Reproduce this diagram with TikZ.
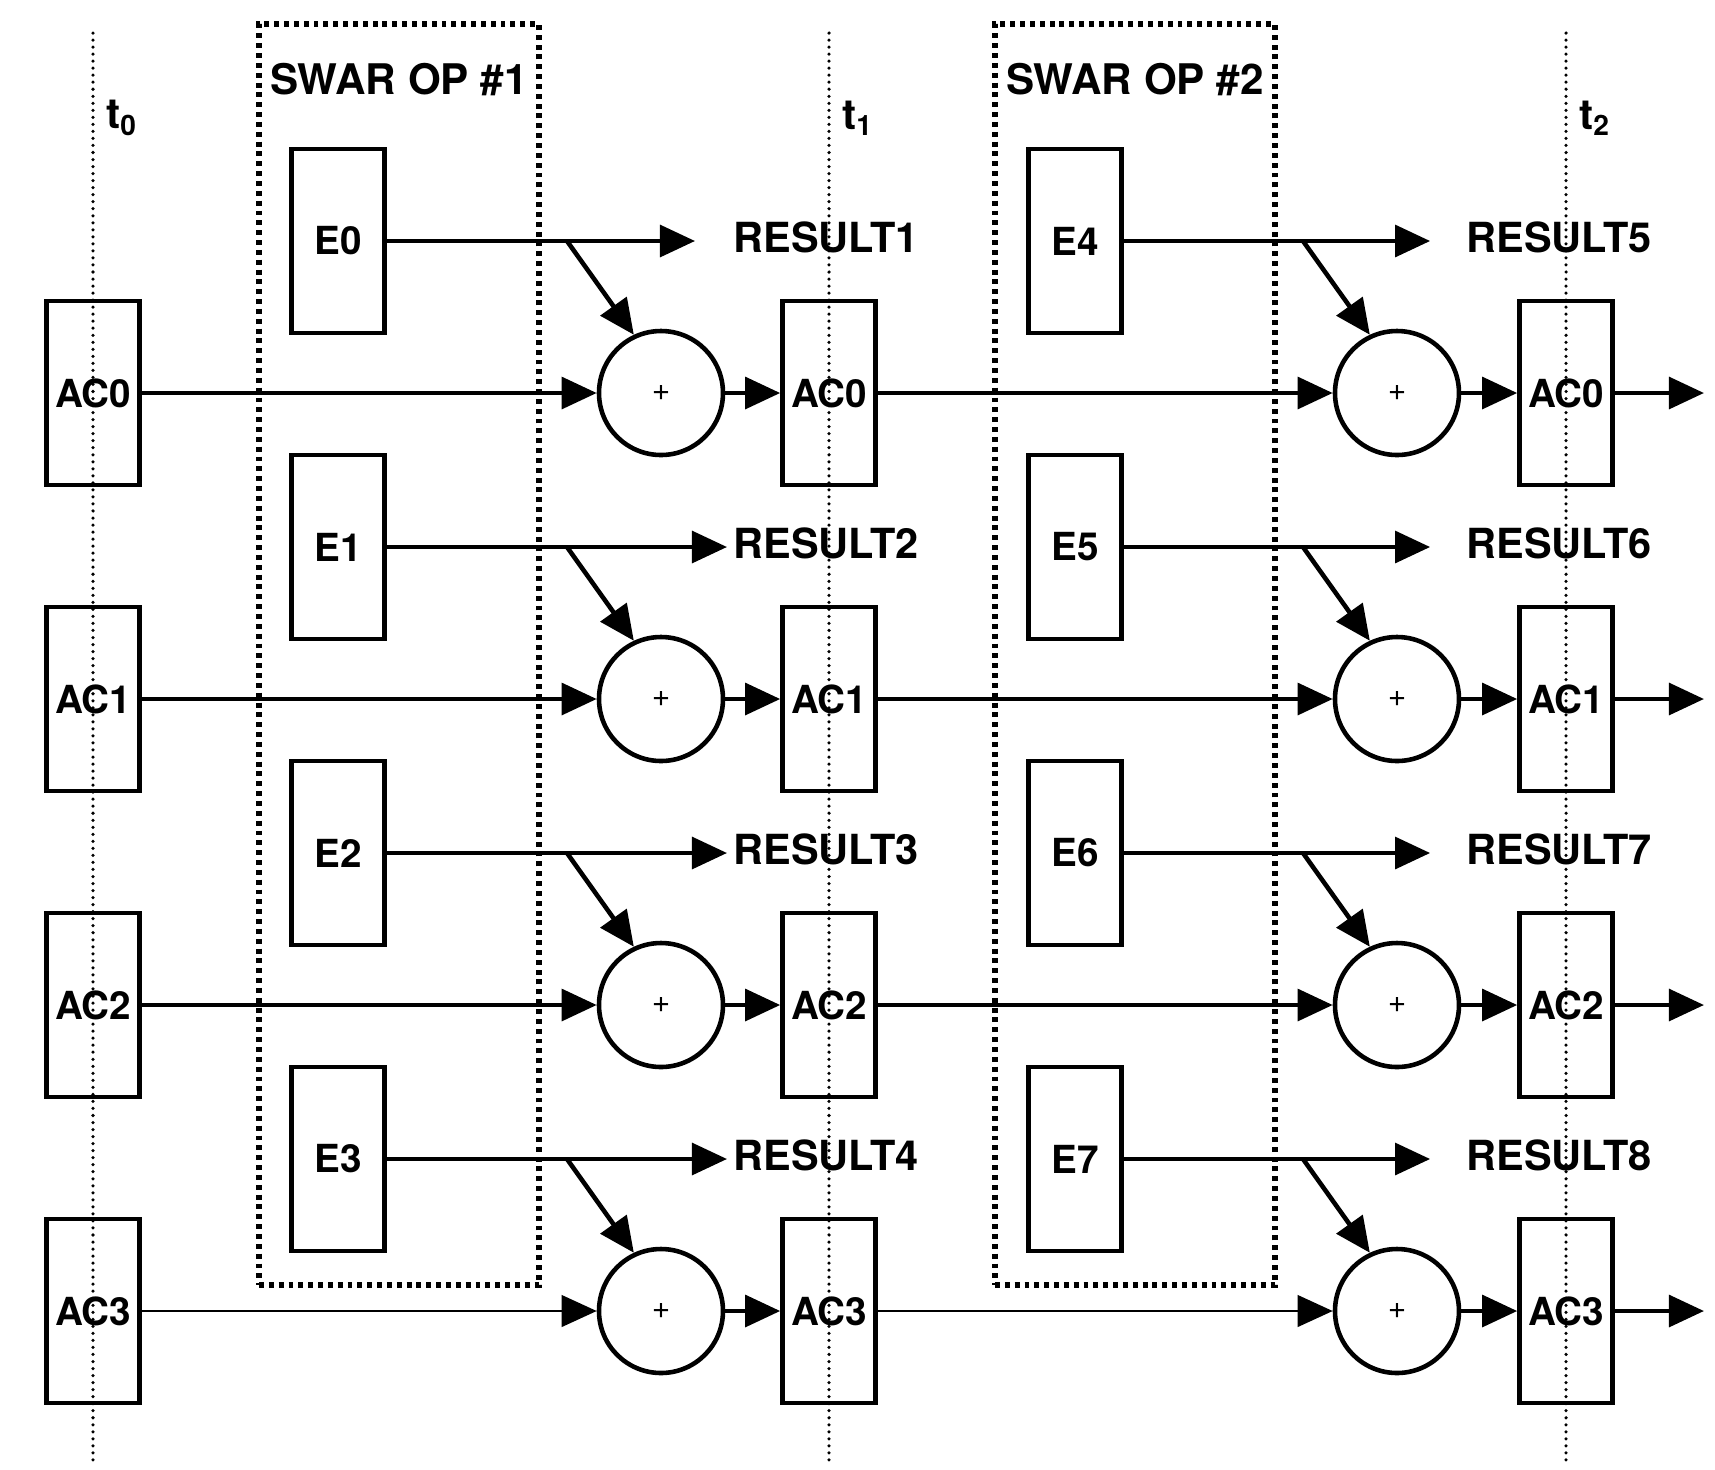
\documentclass[tikz,border=0pt]{standalone}
\usepackage{fontspec}
\setmainfont{TeX Gyre Heros}
\usetikzlibrary{arrows.meta}

\begin{document}
\begin{tikzpicture}[x=0.1mm, y=-0.1mm,
  reg/.style={draw, line width=1.3pt, minimum width=0.93cm, minimum height=1.84cm, inner sep=0pt, font=\fontsize{11}{13}\selectfont\bfseries},
  sum/.style={draw, circle, line width=1.3pt, minimum size=1.24cm, inner sep=0pt, font=\small},
  res/.style={anchor=west, inner sep=0pt, font=\fontsize{11.8}{14}\selectfont\bfseries},
  opbox/.style={draw, line width=1.5pt, dash pattern=on 1.4pt off 1.4pt, minimum width=2.8cm, minimum height=12.61cm, inner sep=0pt},
  tline/.style={line width=1pt, line cap=round, dash pattern=on 0pt off 2pt},
  arr/.style={-{Triangle[length=10pt,width=9pt]}, line width=1.3pt}]

\useasboundingbox (0,0) rectangle (1715,1470);

% time lines
\draw[tline] (93,33) -- (93,1466);
\draw[tline] (829,33) -- (829,1466);
\draw[tline] (1566,33) -- (1566,1466);
\node[font=\fontsize{12}{14}\selectfont\bfseries] (t0) at (122,118) {t\textsubscript{0}};
\node[font=\fontsize{12}{14}\selectfont\bfseries] (t1) at (858,118) {t\textsubscript{1}};
\node[font=\fontsize{12}{14}\selectfont\bfseries] (t2) at (1595,118) {t\textsubscript{2}};

% SWAR operations
\node[opbox] (op1) at (399,654.5) {};
\node[opbox] (op2) at (1135,654.5) {};
\node[font=\fontsize{12}{14}\selectfont\bfseries] (op1lbl) at (399,80) {SWAR OP \#1};
\node[font=\fontsize{12}{14}\selectfont\bfseries] (op2lbl) at (1135,80) {SWAR OP \#2};

\foreach \r/\y/\gap/\lw in {0/393/10.8pt/1.3pt, 1/699/1.7pt/1.3pt, 2/1005/1.7pt/1.3pt, 3/1311/1.7pt/0.7pt} {
  \pgfmathtruncatemacro{\eb}{\r+4}
  \pgfmathtruncatemacro{\ra}{\r+1}
  \pgfmathtruncatemacro{\rb}{\r+5}
  \node[reg] (acA\r) at (93,\y) {AC\r};
  \node[reg] (acB\r) at (829,\y) {AC\r};
  \node[reg] (acC\r) at (1566,\y) {AC\r};
  \node[reg] (eA\r) at (338,\y-152) {E\r};
  \node[reg] (eB\r) at (1075,\y-152) {E\eb};
  \node[sum] (sumA\r) at (661,\y) {+};
  \node[sum] (sumB\r) at (1397,\y) {+};
  \node[res] (resA\r) at (733,\y-156) {RESULT\ra};
  \node[res] (resB\r) at (1466,\y-156) {RESULT\rb};
  \coordinate (brA\r) at (567,\y-152);
  \coordinate (brB\r) at (1303,\y-152);
  \coordinate (out\r) at (1704,\y);

  \draw[arr, shorten >=\gap] (eA\r) -- (eA\r -| resA\r.west);
  \draw[arr, shorten >=10.2pt] (eB\r) -- (eB\r -| resB\r.west);
  \draw[arr] (brA\r) -- (sumA\r.115);
  \draw[arr] (brB\r) -- (sumB\r.115);
  \draw[arr, line width=\lw] (acA\r) -- (sumA\r);
  \draw[arr] (sumA\r) -- (acB\r);
  \draw[arr, line width=\lw] (acB\r) -- (sumB\r);
  \draw[arr] (sumB\r) -- (acC\r);
  \draw[arr] (acC\r) -- (out\r);
}
\end{tikzpicture}
\end{document}
